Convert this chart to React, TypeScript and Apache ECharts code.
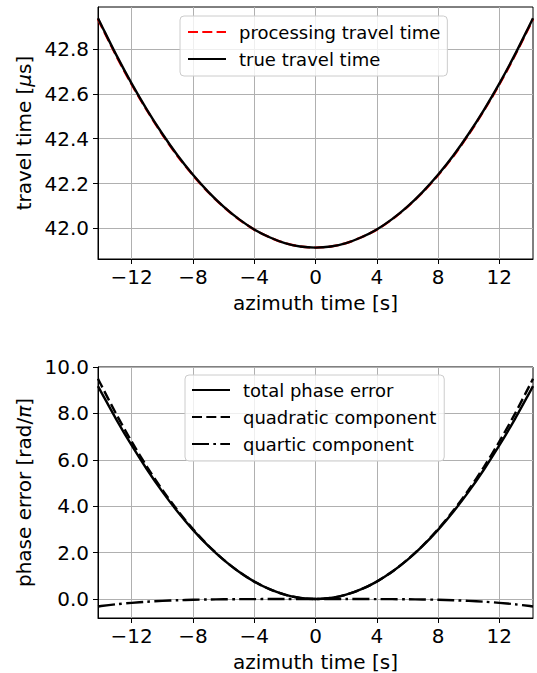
import React, { useEffect, useRef } from "react";
import * as echarts from "echarts";

const azimuth = [-14.2, -14, -13, -12, -11, -10, -9, -8, -7, -6, -5, -4, -3, -2, -1, 0, 1, 2, 3, 4, 5, 6, 7, 8, 9, 10, 11, 12, 13, 14, 14.2];

const trueTravel = [42.938, 42.910, 42.773, 42.646, 42.529, 42.422, 42.325, 42.239, 42.163, 42.097, 42.041, 41.995, 41.960, 41.934, 41.919, 41.914, 41.919, 41.934, 41.960, 41.995, 42.041, 42.097, 42.163, 42.239, 42.325, 42.422, 42.529, 42.646, 42.773, 42.910, 42.938];
const procTravel = [42.934, 42.906, 42.769, 42.642, 42.526, 42.419, 42.322, 42.237, 42.161, 42.096, 42.040, 41.994, 41.960, 41.934, 41.919, 41.914, 41.919, 41.934, 41.960, 41.994, 42.040, 42.096, 42.161, 42.237, 42.322, 42.419, 42.526, 42.642, 42.769, 42.906, 42.934];

const totalPhase = [9.177, 8.930, 7.735, 6.619, 5.584, 4.631, 3.763, 2.982, 2.289, 1.686, 1.173, 0.752, 0.423, 0.188, 0.047, 0, 0.047, 0.188, 0.423, 0.752, 1.173, 1.686, 2.289, 2.982, 3.763, 4.631, 5.584, 6.619, 7.735, 8.930, 9.177];
const quadPhase = [9.497, 9.232, 7.960, 6.782, 5.699, 4.710, 3.815, 3.014, 2.308, 1.696, 1.178, 0.754, 0.424, 0.188, 0.047, 0, 0.047, 0.188, 0.424, 0.754, 1.178, 1.696, 2.308, 3.014, 3.815, 4.710, 5.699, 6.782, 7.960, 9.232, 9.497];
const quartPhase = [-0.320, -0.302, -0.225, -0.163, -0.115, -0.079, -0.052, -0.032, -0.019, -0.010, -0.005, -0.002, -0.001, 0, 0, 0, 0, 0, -0.001, -0.002, -0.005, -0.010, -0.019, -0.032, -0.052, -0.079, -0.115, -0.163, -0.225, -0.302, -0.320];

const xTicks = [-12, -8, -4, 0, 4, 8, 12];
const yTicksTop = [42.0, 42.2, 42.4, 42.6, 42.8];
const yTicksBottom = [0, 2, 4, 6, 8, 10];

const FONT = "DejaVu Sans";

function pairs(ys: number[]) {
  return azimuth.map((x, i) => [x, ys[i]]);
}

export default function App() {
  const ref = useRef<HTMLDivElement>(null);
  useEffect(() => {
    if (!ref.current) return;
    const chart = echarts.init(ref.current, undefined, { renderer: "svg" });
    const xAxisBase = (gridIndex: number) => ({
      type: "value",
      gridIndex,
      min: -14.2,
      max: 14.2,
      name: "azimuth time [s]",
      nameLocation: "middle",
      nameGap: 34,
      nameTextStyle: { fontFamily: FONT, fontSize: 20, color: "#000" },
      axisLine: { show: true, onZero: false, lineStyle: { color: "#000", width: 1 } },
      axisTick: { show: true, length: 5, inside: false, customValues: xTicks, lineStyle: { color: "#000" } },
      axisLabel: {
        customValues: xTicks,
        margin: 8,
        fontFamily: FONT,
        fontSize: 20,
        color: "#000",
        formatter: (v: number) => (v < 0 ? "\u2212" + Math.abs(v) : String(v)),
      },
      splitLine: { show: true, lineStyle: { color: "#b0b0b0", width: 1 } },
    });
    const yAxisBase = (gridIndex: number, min: number, max: number, ticks: number[], name: string) => ({
      type: "value",
      gridIndex,
      min,
      max,
      name,
      nameLocation: "middle",
      nameGap: 63,
      nameTextStyle: {
        fontFamily: FONT,
        fontSize: 20,
        color: "#000",
        rich: { i: { fontFamily: FONT, fontSize: 20, fontStyle: "italic", color: "#000" } },
      },
      axisLine: { show: true, onZero: false, lineStyle: { color: "#000", width: 1 } },
      axisTick: { show: true, length: 5, customValues: ticks, lineStyle: { color: "#000" } },
      axisLabel: { customValues: ticks, margin: 9, fontFamily: FONT, fontSize: 20, color: "#000", formatter: (v: number) => v.toFixed(1) },
      splitLine: { show: true, lineStyle: { color: "#b0b0b0", width: 1 } },
    });
    const lineDash = [10, 4.3];
    const dashDot = [17, 4.3, 2.7, 4.3];
    const legendBase = {
      orient: "vertical",
      backgroundColor: "rgba(255,255,255,0.8)",
      borderColor: "#cccccc",
      borderWidth: 1,
      borderRadius: 4,
      itemWidth: 38,
      itemHeight: 14,
      itemGap: 9,
      itemStyle: { opacity: 0 },
      textStyle: { fontFamily: FONT, fontSize: 18, color: "#000", lineHeight: 18, padding: [0, 0, 0, 8] },
    };
    const line = (name: string, xi: number, ys: number[], color: string, type: any) => ({
      name,
      type: "line",
      xAxisIndex: xi,
      yAxisIndex: xi,
      data: pairs(ys),
      smooth: 0.3,
      showSymbol: false,
      symbol: "none",
      color,
      lineStyle: { color, width: 2.4, type },
    });
    chart.setOption({
      animation: false,
      backgroundColor: "#fff",
      grid: [
        { left: 98, top: 7, width: 435, height: 252, show: true, borderColor: "#000", borderWidth: 1, backgroundColor: "transparent" },
        { left: 98, top: 367, width: 435, height: 252, show: true, borderColor: "#000", borderWidth: 1, backgroundColor: "transparent" },
      ],
      legend: [
        {
          ...legendBase,
          left: 180,
          top: 16,
          padding: [7, 7, 8, 7],
          data: ["processing travel time", "true travel time"],
        },
        {
          ...legendBase,
          left: 185,
          top: 375,
          padding: [6, 8, 8, 6],
          data: ["total phase error", "quadratic component", "quartic component"],
        },
      ],
      xAxis: [xAxisBase(0), xAxisBase(1)],
      yAxis: [
        yAxisBase(0, 41.863, 42.988, yTicksTop, "travel time [{i|\u03bc}s]"),
        yAxisBase(1, -0.817, 10.0, yTicksBottom, "phase error [rad/{i|\u03c0}]"),
      ],
      series: [
        line("processing travel time", 0, procTravel, "#ff0000", lineDash),
        line("true travel time", 0, trueTravel, "#000000", "solid"),
        line("total phase error", 1, totalPhase, "#000000", "solid"),
        line("quadratic component", 1, quadPhase, "#000000", lineDash),
        line("quartic component", 1, quartPhase, "#000000", dashDot),
      ],
    });
    return () => chart.dispose();
  }, []);
  return <div ref={ref} style={{ position: "fixed", left: 0, top: 0, width: 537, height: 673 }} />;
}
